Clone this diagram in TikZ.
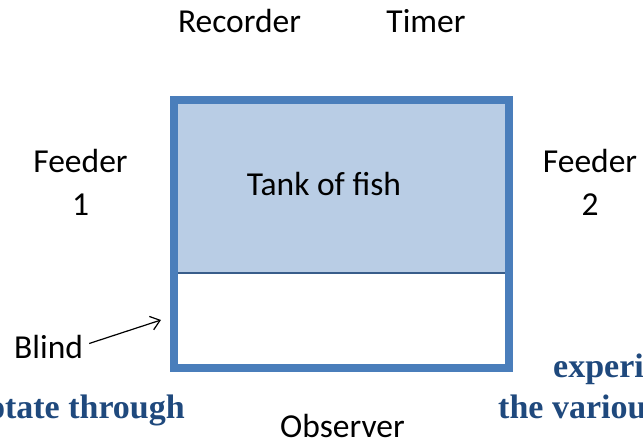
\documentclass[tikz,border=0pt]{standalone}
\usepackage{fontspec}
\setmainfont{Carlito}
\newfontfamily\slidefont{Liberation Serif}
\usepackage{xcolor}
\usetikzlibrary{arrows.meta}

\begin{document}
\begin{tikzpicture}[x=1pt, y=-1pt,
        label/.style={inner sep=0pt, anchor=base, font=\fontsize{33.5}{43}\selectfont, align=center},
        slide/.style={inner sep=0pt, anchor=base, text=slideblue, font=\slidefont\bfseries\fontsize{34}{40}\selectfont}]
        % Define colors for the tank
        \definecolor{tankline}{RGB}{74,126,187}
        \definecolor{tankfill}{RGB}{185,205,229}
        \definecolor{waterline}{RGB}{56,93,138}
        \definecolor{slideblue}{RGB}{31,73,125}

        % Picture frame
        \clip (0,0) rectangle (643,444);
        \fill[white] (0,0) rectangle (643,444);

        % 1. The tank (upper part filled, lower part behind the blind)
        \fill[tankfill] (174,100) rectangle (509,273);
        \draw[waterline, line width=2.5pt] (174,273) -- (509,273);
        \draw[tankline, line width=8pt] (174,100) rectangle (509,367.5);
        \node[label] (tank) at (324,195) {Tank of fish};

        % 2. Equipment around the tank (two-line labels sit on their last line)
        \node[label] (recorder) at (239.5,33) {Recorder};
        \node[label] (timer) at (426,33) {Timer};
        \node[label] (feederone) at (80.5,215) {Feeder\\1};
        \node[label] (feedertwo) at (590,215) {Feeder\\2};
        \node[label] (observer) at (342.5,437) {Observer};

        % 3. The blind
        \node[label, anchor=base west] (blind) at (14,358) {Blind};
        \coordinate (blindtip) at (161,320);
        \draw[-{Straight Barb[length=9pt, width=14pt]}, line width=1.2pt] (blind.east) ++(6,-3) -- (blindtip);

        % Slide text behind the picture
        \node[slide, anchor=base east] (rotate) at (185,418) {otate through};
        \node[slide, anchor=base west] (experi) at (553,377) {experi};
        \node[slide, anchor=base west] (various) at (498,418) {the variou};

    \end{tikzpicture}
\end{document}
